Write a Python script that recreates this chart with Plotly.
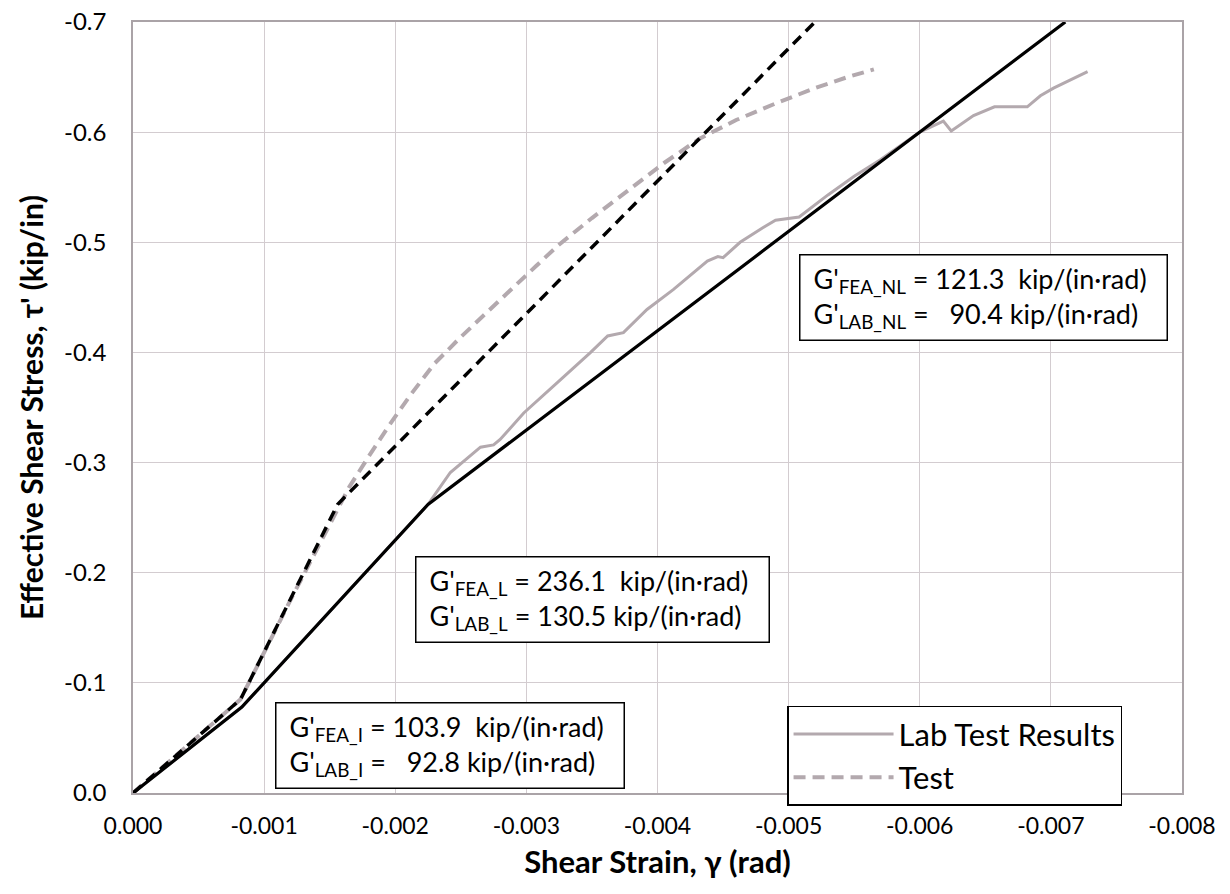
import plotly.graph_objects as go

# ---- data ----
fea_lab_x = [0.0, -0.00083, -0.00225, -0.00711]          # black solid (lab fit)
fea_lab_y = [0.0, -0.078, -0.262, -0.700]

fea_x = [0.0, -0.00082, -0.00156, -0.00520]               # black dashed (FEA fit)
fea_y = [0.0, -0.085, -0.262, -0.700]

test_x = [0.0, -0.00040, -0.00082, -0.00120, -0.00153, -0.00165, -0.00180, -0.00196,
          -0.00212, -0.00230, -0.00250, -0.00270, -0.00290, -0.00307, -0.00324,
          -0.00350, -0.00378, -0.00405, -0.00432, -0.00460, -0.00490, -0.00520,
          -0.00545, -0.00565]
test_y = [0.0, -0.041, -0.085, -0.175, -0.251, -0.278, -0.306, -0.335,
          -0.362, -0.390, -0.414, -0.437, -0.459, -0.478, -0.497,
          -0.522, -0.548, -0.572, -0.594, -0.611, -0.626, -0.640,
          -0.650, -0.657]

lab_x = [0.0, -0.00083, -0.00225, -0.00242, -0.00265, -0.00275, -0.00280, -0.00298,
         -0.00324, -0.00349, -0.00362, -0.00374, -0.00392, -0.00412, -0.00438,
         -0.00446, -0.00450, -0.00463, -0.00480, -0.00490, -0.00508, -0.00530,
         -0.00550, -0.00570, -0.00600, -0.00618, -0.00624, -0.00641, -0.00657,
         -0.00682, -0.00692, -0.00702, -0.00728]
lab_y = [0.0, -0.078, -0.262, -0.291, -0.314, -0.316, -0.321, -0.345,
         -0.373, -0.400, -0.415, -0.418, -0.439, -0.457, -0.483,
         -0.487, -0.486, -0.500, -0.513, -0.520, -0.523, -0.543,
         -0.560, -0.575, -0.600, -0.610, -0.601, -0.615, -0.623,
         -0.623, -0.633, -0.640, -0.655]

x_ticks = [0.0, -0.001, -0.002, -0.003, -0.004, -0.005, -0.006, -0.007, -0.008]
x_tick_text = ["0.000", "-0.001", "-0.002", "-0.003", "-0.004", "-0.005", "-0.006", "-0.007", "-0.008"]
y_ticks = [0.0, -0.1, -0.2, -0.3, -0.4, -0.5, -0.6, -0.7]
y_tick_text = ["0.0", "-0.1", "-0.2", "-0.3", "-0.4", "-0.5", "-0.6", "-0.7"]

SP = "\u00a0"
labels = [
    (SP + "G'<sub>FEA_NL</sub> = 121.3" + SP * 2 + "kip/(in·rad)" + SP * 2 + "<br>" + SP +
     "G'<sub>LAB_NL</sub> =" + SP * 3 + "90.4 kip/(in·rad)", -0.005076, -0.489),
    (SP + "G'<sub>FEA_L</sub> = 236.1" + SP * 2 + "kip/(in·rad)" + SP * 2 + "<br>" + SP +
     "G'<sub>LAB_L</sub> = 130.5 kip/(in·rad)", -0.002153, -0.2155),
    (SP + "G'<sub>FEA_I</sub> = 103.9" + SP * 2 + "kip/(in·rad)" + SP * 2 + "<br>" + SP +
     "G'<sub>LAB_I</sub> =" + SP * 3 + "92.8 kip/(in·rad)", -0.001084, -0.0827),
]

FONT = "Lato, Carlito, Calibri, sans-serif"
GRAY = "#b3a9ae"

fig = go.Figure()
fig.add_trace(go.Scatter(x=lab_x, y=lab_y, mode="lines", name="Lab Test Results",
                         line=dict(color=GRAY, width=3)))
fig.add_trace(go.Scatter(x=test_x, y=test_y, mode="lines", name="Test",
                         line=dict(color=GRAY, width=4, dash="12px,7px")))
fig.add_trace(go.Scatter(x=fea_lab_x, y=fea_lab_y, mode="lines", showlegend=False,
                         line=dict(color="black", width=3.2)))
fig.add_trace(go.Scatter(x=fea_x, y=fea_y, mode="lines", showlegend=False,
                         line=dict(color="black", width=3.5, dash="11px,7px")))

for txt, ax, ay in labels:
    fig.add_annotation(x=ax, y=ay, xref="x", yref="y", text=txt, showarrow=False,
                       xanchor="left", yanchor="top", align="left",
                       font=dict(family=FONT, size=27, color="black"),
                       bgcolor="white", bordercolor="black", borderwidth=1.5,
                       borderpad=6)

fig.update_layout(
    width=1230, height=894,
    margin=dict(l=133, r=48, t=22, b=101),
    paper_bgcolor="white", plot_bgcolor="white",
    font=dict(family=FONT, color="black"),
    legend=dict(x=0.6235, y=0.113, xanchor="left", yanchor="top",
                bgcolor="white", bordercolor="black", borderwidth=1.5,
                font=dict(family=FONT, size=31, color="black"),
                itemwidth=100, tracegroupgap=0),
    xaxis=dict(range=[0, -0.008], tickvals=x_ticks, ticktext=x_tick_text,
               automargin=False,
               showgrid=True, gridcolor="#d3ccd0", gridwidth=1,
               showline=True, mirror=True, linecolor="#aaa3a7", linewidth=1.5, zeroline=False,
               ticks="", ticklabelstandoff=12, tickfont=dict(family=FONT, size=23),
               title=dict(text="<b>Shear Strain, γ (rad)</b>", font=dict(family=FONT, size=31), standoff=13)),
    yaxis=dict(range=[0, -0.7], tickvals=y_ticks, ticktext=y_tick_text,
               automargin=False,
               showgrid=True, gridcolor="#d3ccd0", gridwidth=1,
               showline=True, mirror=True, linecolor="#aaa3a7", linewidth=1.5, zeroline=False,
               ticks="", ticklabelstandoff=20, tickfont=dict(family=FONT, size=24),
               title=dict(text="<b>Effective Shear Stress, τ' (kip/in)</b>", font=dict(family=FONT, size=30), standoff=12)),
)

fig.write_html("out.html", config={"displayModeBar": False},
               post_script="document.body.style.margin='0';document.body.style.overflow='hidden';")
